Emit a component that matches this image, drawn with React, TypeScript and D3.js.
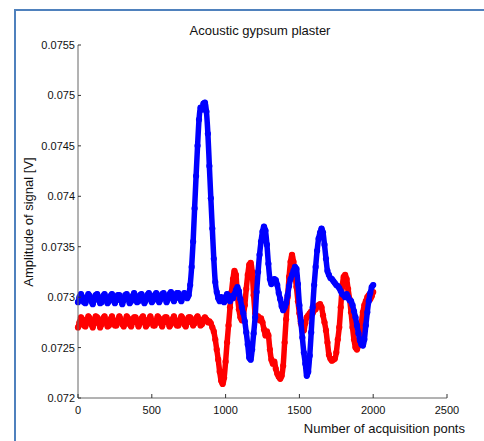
import React from "react";
import * as d3 from "d3";

const xTicks = [0, 500, 1000, 1500, 2000, 2500];
const yTicks = [0.072, 0.0725, 0.073, 0.0735, 0.074, 0.0745, 0.075, 0.0755];
const yTickLabels = ["0.072", "0.0725", "0.073", "0.0735", "0.074", "0.0745", "0.075", "0.0755"];

const title = "Acoustic gypsum plaster";
const xLabel = "Number of acquisition ponts";
const yLabel = "Amplitude of signal [V]";

// acquisition point index of each sample (0..2000, every 10 points)
const points = d3.range(0, 2001, 10);

const blueSeries = [
  0.07295, 0.07300, 0.07303, 0.07300, 0.07295, 0.07294, 0.07299, 0.07303, 0.07301, 0.07296,
  0.07293, 0.07297, 0.07302, 0.07303, 0.07298, 0.07294, 0.07295, 0.07301, 0.07303, 0.07299,
  0.07294, 0.07296, 0.07301, 0.07303, 0.07298, 0.07294, 0.07297, 0.07302, 0.07302, 0.07297,
  0.07293, 0.07297, 0.07302, 0.07303, 0.07298, 0.07294, 0.07296, 0.07301, 0.07304, 0.07299,
  0.07295, 0.07296, 0.07302, 0.07303, 0.07298, 0.07294, 0.07297, 0.07302, 0.07304, 0.07299,
  0.07295, 0.07297, 0.07302, 0.07304, 0.07299, 0.07295, 0.07298, 0.07303, 0.07304, 0.07299,
  0.07295, 0.07298, 0.07303, 0.07305, 0.07300, 0.07296, 0.07299, 0.07304, 0.07304, 0.07299,
  0.07296, 0.07300, 0.07304, 0.07303, 0.07299, 0.07302, 0.07312, 0.07330, 0.07355, 0.07388,
  0.07420, 0.07450, 0.07476, 0.07488, 0.07486, 0.07492, 0.07493, 0.07484, 0.07462, 0.07430,
  0.07398, 0.07368, 0.07338, 0.07315, 0.07305, 0.07299, 0.07296, 0.07300, 0.07297, 0.07295,
  0.07300, 0.07303, 0.07298, 0.07296, 0.07301, 0.07299, 0.07303, 0.07307, 0.07310, 0.07306,
  0.07298, 0.07290, 0.07284, 0.07276, 0.07265, 0.07253, 0.07240, 0.07238, 0.07248, 0.07264,
  0.07280, 0.07305, 0.07325, 0.07342, 0.07355, 0.07365, 0.07370, 0.07366, 0.07352, 0.07333,
  0.07318, 0.07313, 0.07315, 0.07318, 0.07317, 0.07312, 0.07304, 0.07298, 0.07291, 0.07287,
  0.07290, 0.07294, 0.07302, 0.07311, 0.07318, 0.07322, 0.07326, 0.07330, 0.07328, 0.07313,
  0.07292, 0.07276, 0.07260, 0.07245, 0.07234, 0.07222, 0.07226, 0.07242, 0.07265, 0.07290,
  0.07312, 0.07330, 0.07346, 0.07358, 0.07364, 0.07368, 0.07364, 0.07352, 0.07338, 0.07326,
  0.07322, 0.07319, 0.07318, 0.07316, 0.07314, 0.07312, 0.07311, 0.07309, 0.07306, 0.07303,
  0.07302, 0.07300, 0.07303, 0.07300, 0.07297, 0.07296, 0.07292, 0.07286, 0.07280, 0.07272,
  0.07264, 0.07257, 0.07253, 0.07252, 0.07258, 0.07272, 0.07285, 0.07296, 0.07304, 0.07310,
  0.07312,
];

const redSeries = [
  0.07270, 0.07275, 0.07280, 0.07278, 0.07272, 0.07271, 0.07276, 0.07281, 0.07279, 0.07273,
  0.07270, 0.07275, 0.07281, 0.07280, 0.07274, 0.07270, 0.07273, 0.07279, 0.07281, 0.07276,
  0.07271, 0.07272, 0.07278, 0.07281, 0.07277, 0.07272, 0.07272, 0.07277, 0.07281, 0.07278,
  0.07273, 0.07271, 0.07276, 0.07281, 0.07279, 0.07273, 0.07271, 0.07275, 0.07280, 0.07280,
  0.07275, 0.07271, 0.07274, 0.07279, 0.07281, 0.07276, 0.07271, 0.07273, 0.07278, 0.07281,
  0.07277, 0.07272, 0.07272, 0.07277, 0.07281, 0.07279, 0.07274, 0.07271, 0.07275, 0.07280,
  0.07280, 0.07275, 0.07271, 0.07273, 0.07278, 0.07281, 0.07277, 0.07272, 0.07272, 0.07277,
  0.07281, 0.07279, 0.07273, 0.07271, 0.07275, 0.07280, 0.07280, 0.07275, 0.07272, 0.07274,
  0.07279, 0.07281, 0.07277, 0.07272, 0.07273, 0.07278, 0.07280, 0.07278, 0.07275, 0.07276,
  0.07274, 0.07270, 0.07266, 0.07258, 0.07248, 0.07238, 0.07226, 0.07217, 0.07214, 0.07220,
  0.07236, 0.07255, 0.07272, 0.07290, 0.07305, 0.07318, 0.07326, 0.07322, 0.07302, 0.07288,
  0.07280, 0.07277, 0.07282, 0.07292, 0.07308, 0.07322, 0.07332, 0.07334, 0.07325, 0.07302,
  0.07284, 0.07280, 0.07281, 0.07277, 0.07279, 0.07275, 0.07268, 0.07262, 0.07266, 0.07262,
  0.07248, 0.07238, 0.07234, 0.07236, 0.07229, 0.07224, 0.07221, 0.07219, 0.07222, 0.07232,
  0.07255, 0.07278, 0.07300, 0.07320, 0.07335, 0.07342, 0.07335, 0.07322, 0.07310, 0.07296,
  0.07284, 0.07274, 0.07268, 0.07267, 0.07274, 0.07280, 0.07282, 0.07284, 0.07286, 0.07284,
  0.07287, 0.07288, 0.07291, 0.07292, 0.07293, 0.07290, 0.07282, 0.07275, 0.07267, 0.07255,
  0.07243, 0.07239, 0.07237, 0.07238, 0.07239, 0.07245, 0.07258, 0.07270, 0.07290, 0.07310,
  0.07320, 0.07322, 0.07318, 0.07308, 0.07298, 0.07285, 0.07270, 0.07258, 0.07250, 0.07248,
  0.07252, 0.07262, 0.07275, 0.07285, 0.07292, 0.07296, 0.07300, 0.07302, 0.07298, 0.07301,
  0.07305,
];

const W = 484;
const H = 441;
const left = 78;
const right = 447;
const top = 45;
const bottom = 398;

export default function App() {
  const x = d3.scaleLinear().domain([0, 2500]).range([left, right]);
  const y = d3.scaleLinear().domain([0.072, 0.0755]).range([bottom, top]);
  const line = d3
    .line<number>()
    .x((_, i) => x(points[i]))
    .y((d) => y(d))
    .curve(d3.curveMonotoneX);

  const font = "'Liberation Sans', Arial, sans-serif";
  const axisColor = "#666";

  const series = [
    { data: redSeries, color: "#ff0000" },
    { data: blueSeries, color: "#0000ff" },
  ];

  return (
    <svg
      width={W}
      height={H}
      style={{ position: "absolute", left: 0, top: 0, background: "#fff" }}
      fontFamily={font}
    >
      <rect x={0} y={0} width={W} height={H} fill="#fff" />
      {/* frame */}
      <line x1={14} y1={10} x2={W} y2={10} stroke="#4f81bd" strokeWidth={2} />
      <line x1={15} y1={9} x2={15} y2={H} stroke="#4f81bd" strokeWidth={2} />

      <text x={260} y={35} textAnchor="middle" fontSize={13} fill="#111">
        {title}
      </text>

      {/* series */}
      {series.map((s, k) => (
        <g key={k}>
          <path
            d={line(s.data) || ""}
            fill="none"
            stroke={s.color}
            strokeWidth={5.5}
            strokeLinejoin="round"
            strokeLinecap="round"
          />
          {s.data.map((v, i) => (
            <circle key={i} cx={x(points[i])} cy={y(v)} r={3.1} fill={s.color} />
          ))}
        </g>
      ))}

      {/* axes */}
      <line x1={left} y1={top} x2={left} y2={bottom} stroke={axisColor} strokeWidth={1} />
      <line x1={left} y1={bottom} x2={right} y2={bottom} stroke={axisColor} strokeWidth={1} />
      {yTicks.map((t, i) => (
        <g key={"y" + i}>
          <line x1={left} x2={left + 3} y1={y(t)} y2={y(t)} stroke="#333" />
          <text x={left - 3} y={y(t) + 4} textAnchor="end" fontSize={11} fill="#111">
            {yTickLabels[i]}
          </text>
        </g>
      ))}
      {xTicks.map((t, i) => (
        <g key={"x" + i}>
          <line x1={x(t)} x2={x(t)} y1={bottom} y2={bottom - 4} stroke="#333" />
          <text x={x(t)} y={bottom + 16} textAnchor="middle" fontSize={11} fill="#111">
            {t}
          </text>
        </g>
      ))}

      <text x={465} y={433} textAnchor="end" fontSize={13} fill="#111">
        {xLabel}
      </text>
      <text
        transform={`translate(33, ${222}) rotate(-90)`}
        textAnchor="middle"
        fontSize={13}
        fill="#111"
      >
        {yLabel}
      </text>
    </svg>
  );
}
